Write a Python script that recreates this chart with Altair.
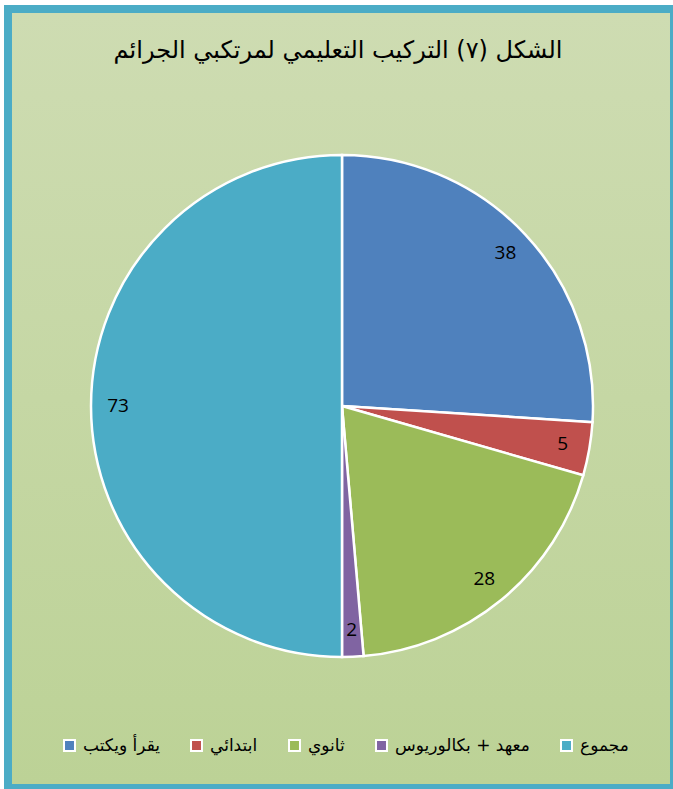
import altair as alt
import pandas as pd

categories = ["يقرأ ويكتب", "ابتدائي", "ثانوي", "معهد + بكالوريوس", "مجموع"]
values = [38, 5, 28, 2, 73]
colors = ["#4f81bd", "#c0504d", "#9bbb59", "#8064a2", "#4bacc6"]
title_text = "الشكل (٧) التركيب التعليمي لمرتكبي الجرائم"

df = pd.DataFrame({"cat": categories, "val": values, "idx": list(range(len(values)))})
one = pd.DataFrame({"a": [0]})

W, H = 673, 789
CX, CY, R = 342, 406, 251

frame = alt.Chart(one).mark_rect(fill="#4bacc6").encode(
    x=alt.value(4), x2=alt.value(W), y=alt.value(5), y2=alt.value(H)
)
bg = alt.Chart(one).mark_rect(
    fill=alt.Gradient(
        gradient="linear",
        stops=[alt.GradientStop(color="#cedcb2", offset=0),
               alt.GradientStop(color="#bcd296", offset=1)],
        x1=0, x2=0, y1=0, y2=1,
    )
).encode(x=alt.value(12), x2=alt.value(670), y=alt.value(13), y2=alt.value(784))

title = alt.Chart(one).mark_text(
    text=title_text, font="DejaVu Sans", fontSize=24, color="black", align="center", baseline="middle"
).encode(x=alt.value(338), y=alt.value(51))

color_scale = alt.Scale(domain=categories, range=colors)

base = alt.Chart(df).encode(
    theta=alt.Theta("val:Q", stack=True),
    order=alt.Order("idx:Q"),
)

pie = base.mark_arc(stroke="white", strokeWidth=2.5).encode(
    color=alt.Color(
        "cat:N", scale=color_scale, sort=categories,
        legend=alt.Legend(
            title=None, orient="none", direction="horizontal",
            legendX=61, legendY=737,
            symbolType="square", symbolSize=120,
            symbolStrokeColor="white", symbolStrokeWidth=2, symbolOpacity=1,
            labelFont="DejaVu Sans", labelFontSize=17, labelColor="black",
            labelOffset=5, columnPadding=27, labelLimit=300,
        ),
    ),
    x=alt.value(CX), y=alt.value(CY), radius=alt.value(R),
)

labels = base.mark_text(font="Open Sans", fontSize=19, color="black", align="center", baseline="middle").encode(
    text="val:Q",
    x=alt.value(CX), y=alt.value(CY), radius=alt.value(224),
)

chart = alt.layer(frame, bg, title, pie, labels).properties(
    width=W, height=H, autosize="none", padding=0, background="white"
).configure_view(stroke=None)

chart.save("out.html", embed_options={"renderer": "svg", "actions": False})
